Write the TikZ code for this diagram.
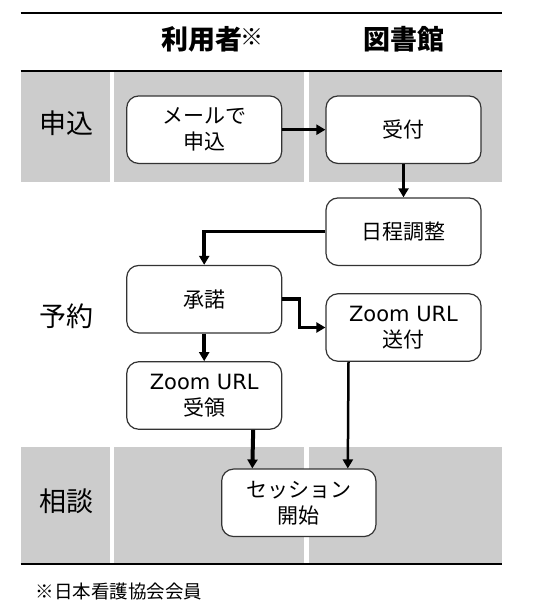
\documentclass[tikz,border=0pt]{standalone}
\usepackage{fontspec}
\setmainfont{Noto Sans CJK JP}
\newfontfamily\latfont{DejaVu Sans}
\usetikzlibrary{arrows.meta,calc}
\tikzset{
  band/.style={fill=gray!40, draw=none},
  rulebar/.style={line width=2pt},
  flowbox/.style={draw=black!80, line width=1.2pt, rounded corners=12pt, fill=white,
    minimum width=155pt, minimum height=67.5pt, inner sep=0pt, align=center,
    font=\fontsize{21}{26}\selectfont},
  rowlabel/.style={font=\fontsize{27}{30}\selectfont},
  colhead/.style={font=\bfseries\fontsize{27}{30}\selectfont},
  flow/.style={line width=3.5pt, -{Triangle[length=9pt,width=10pt]}},
}
\begin{document}
\begin{tikzpicture}[x=1pt,y=-1pt]
\useasboundingbox (0,0) rectangle (544,612);
% background bands
\fill[band] (20.7,71.5) rectangle (110.3,181.7);
\fill[band] (114.3,71.5) rectangle (304.3,181.7);
\fill[band] (309,71.5) rectangle (501.7,181.7);
\fill[band] (20.7,446.7) rectangle (110.3,562.7);
\fill[band] (114.3,446.7) rectangle (304.3,562.7);
\fill[band] (309,446.7) rectangle (501.7,562.7);
% rules
\draw[rulebar] (20.7,12.7) -- (501.7,12.7);
\draw[rulebar] (20.7,70.7) -- (501.7,70.7);
\draw[rulebar] (20.7,563.7) -- (501.7,563.7);
% headers
\node[colhead] (h1) at (212,39) {利用者\kern-2pt\raisebox{4pt}{\mdseries\fontsize{23}{23}\selectfont ※}};
\node[colhead] (h2) at (404,39) {図書館};
% row labels
\node[rowlabel] (r1) at (66.5,123) {申込};
\node[rowlabel] (r2) at (66.7,316) {予約};
\node[rowlabel] (r3) at (66.7,501.7) {相談};
% boxes
\node[flowbox] (mail) at (204.2,129.7) {メールで\\申込};
\node[flowbox] (uke) at (403.5,129.7) {受付};
\node[flowbox] (nittei) at (403.5,231.7) {日程調整};
\node[flowbox] (shoda) at (204.2,299.2) {承諾};
\node[flowbox] (soufu) at (403.5,327.5) {{\latfont Zoom URL}\\送付};
\node[flowbox] (juryo) at (204.2,395.5) {{\latfont Zoom URL}\\受領};
\node[flowbox, minimum width=154.3pt] (sess) at (298.8,502.8) {セッション\\開始};
% connectors
\draw[flow] (mail) -- (uke);
\draw[flow] (uke) -- (nittei);
\draw[flow] (nittei.west) -| (shoda.north);
\draw[flow] (shoda.east) -- ++(17,0) |- (soufu.west);
\draw[flow] (shoda) -- (juryo);
\draw[flow, line width=4pt] ([xshift=49pt]juryo.south) -- ([xshift=-46.5pt]sess.north);
\draw[flow, line width=2.5pt] ([xshift=-55pt]soufu.south) -- ([xshift=49pt]sess.north);
% footnote
\node[anchor=west, font=\fontsize{18.5}{20}\selectfont] (note) at (32,591.7) {※日本看護協会会員};
\end{tikzpicture}
\end{document}
